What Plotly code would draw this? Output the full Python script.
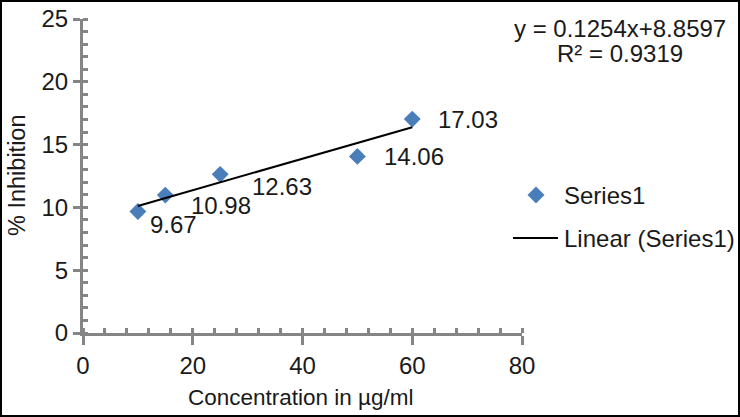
import plotly.graph_objects as go

# ---- data ----
conc = [10, 15, 25, 50, 60]
inhibition = [9.67, 10.98, 12.63, 14.06, 17.03]
label_text = ["9.67", "10.98", "12.63", "14.06", "17.03"]
slope = 0.1254
intercept = 8.8597
r2 = 0.9319
x_ticks = [0, 20, 40, 60, 80]
y_ticks = [0, 5, 10, 15, 20, 25]
legend_names = ["Series1", "Linear (Series1)"]

# ---- style ----
FONT = "Liberation Sans, Arial, sans-serif"
TXT = "#1a1a1a"
AX = "#858585"
BLUE = "#4a7ebb"
FS = 24
# label offsets in pixels (dx, dy) relative to the point, dy positive = down
label_offsets = [(10, 13), (24, 10), (30, 12), (25, 0), (24, 0)]

L, R, T, B = 83, 218, 19, 84
W, H = 740, 417
PW, PH = W - L - R, H - T - B


def px_x(p):
    return (p - L) / PW


def px_y(p):
    return (H - B - p) / PH


fit_x = [min(conc), max(conc)]
fit_y = [slope * v + intercept for v in fit_x]

fig = go.Figure()
fig.add_trace(go.Scatter(
    x=conc, y=inhibition, mode="markers", name=legend_names[0],
    marker=dict(symbol="diamond", size=13, color=BLUE), showlegend=False,
))
fig.add_trace(go.Scatter(
    x=fit_x, y=fit_y, mode="lines", name=legend_names[1],
    line=dict(color="black", width=2), showlegend=False,
))
# invisible trace for overlay axes (inside part of crossing major ticks)
fig.add_trace(go.Scatter(x=[0], y=[0], xaxis="x2", yaxis="y2", mode="markers",
                         marker=dict(opacity=0), showlegend=False, hoverinfo="skip"))

annotations = []
for xv, yv, t, (dx, dy) in zip(conc, inhibition, label_text, label_offsets):
    annotations.append(dict(
        x=xv, y=yv, xref="x", yref="y", text=t, showarrow=False,
        xanchor="left", yanchor="middle", xshift=dx, yshift=-dy,
        font=dict(family=FONT, size=FS, color=TXT),
    ))

eq_text = "y = %.4fx+%.4f" % (slope, intercept)
r2_text = "R² = %.4f" % r2
annotations.append(dict(x=px_x(620), y=px_y(28), xref="paper", yref="paper",
                        text=eq_text, showarrow=False, xanchor="center", yanchor="middle",
                        font=dict(family=FONT, size=FS, color=TXT)))
annotations.append(dict(x=px_x(620), y=px_y(54), xref="paper", yref="paper",
                        text=r2_text, showarrow=False, xanchor="center", yanchor="middle",
                        font=dict(family=FONT, size=FS, color=TXT)))
annotations.append(dict(x=px_x(301), y=px_y(397), xref="paper", yref="paper",
                        text="Concentration in µg/ml", showarrow=False,
                        xanchor="center", yanchor="middle",
                        font=dict(family=FONT, size=22.5, color=TXT)))
annotations.append(dict(x=px_x(17), y=px_y(175), xref="paper", yref="paper",
                        text="% Inhibition", showarrow=False, textangle=-90,
                        xanchor="center", yanchor="middle",
                        font=dict(family=FONT, size=23.5, color=TXT)))

# manual legend (text)
leg_y = [195, 238]
for name, yy in zip(legend_names, leg_y):
    annotations.append(dict(x=px_x(562), y=px_y(yy), xref="paper", yref="paper",
                            text=name, showarrow=False, xanchor="left", yanchor="middle",
                            font=dict(family=FONT, size=FS, color=TXT)))

shapes = [
    # outer border
    dict(type="rect", xref="paper", yref="paper",
         x0=px_x(1), x1=px_x(739), y0=px_y(416), y1=px_y(1),
         line=dict(color="black", width=2), fillcolor="rgba(0,0,0,0)"),
    # legend diamond
    dict(type="path", xref="paper", yref="paper", xsizemode="pixel", ysizemode="pixel",
         xanchor=px_x(536), yanchor=px_y(leg_y[0]),
         path="M0,8.5 L8.5,0 L0,-8.5 L-8.5,0 Z", fillcolor=BLUE, line=dict(width=0)),
    # legend line
    dict(type="line", xref="paper", yref="paper",
         x0=px_x(513), x1=px_x(558), y0=px_y(leg_y[1]), y1=px_y(leg_y[1]),
         line=dict(color="black", width=2)),
]

common_axis = dict(showgrid=False, zeroline=False, showline=True, linecolor=AX, linewidth=3,
                   tickcolor=AX, tickwidth=3, automargin=False,
                   tickfont=dict(family=FONT, size=FS, color=TXT))

fig.update_layout(
    width=W, height=H,
    margin=dict(l=L, r=R, t=T, b=B, autoexpand=False),
    paper_bgcolor="white", plot_bgcolor="white",
    xaxis=dict(range=[0, 80], tickvals=x_ticks, ticks="outside", ticklen=9,
               minor=dict(dtick=4, ticks="inside", ticklen=5, tickcolor=AX, tickwidth=3),
               **common_axis),
    yaxis=dict(range=[0, 25], tickvals=y_ticks, ticks="outside", ticklen=7,
               minor=dict(dtick=1, ticks="inside", ticklen=5, tickcolor=AX, tickwidth=3),
               **common_axis),
    xaxis2=dict(range=[0, 80], overlaying="x", tickvals=x_ticks, ticks="inside", ticklen=5,
                tickcolor=AX, tickwidth=3, showticklabels=False, showline=False,
                showgrid=False, zeroline=False, side="bottom", automargin=False),
    yaxis2=dict(range=[0, 25], overlaying="y", tickvals=y_ticks, ticks="inside", ticklen=5,
                tickcolor=AX, tickwidth=3, showticklabels=False, showline=False,
                showgrid=False, zeroline=False, side="left", automargin=False),
    showlegend=False,
    annotations=annotations,
    shapes=shapes,
)

fig.write_html("out.html", config={"displayModeBar": False},
               post_script="document.body.style.margin='0';document.body.style.overflow='hidden';")
